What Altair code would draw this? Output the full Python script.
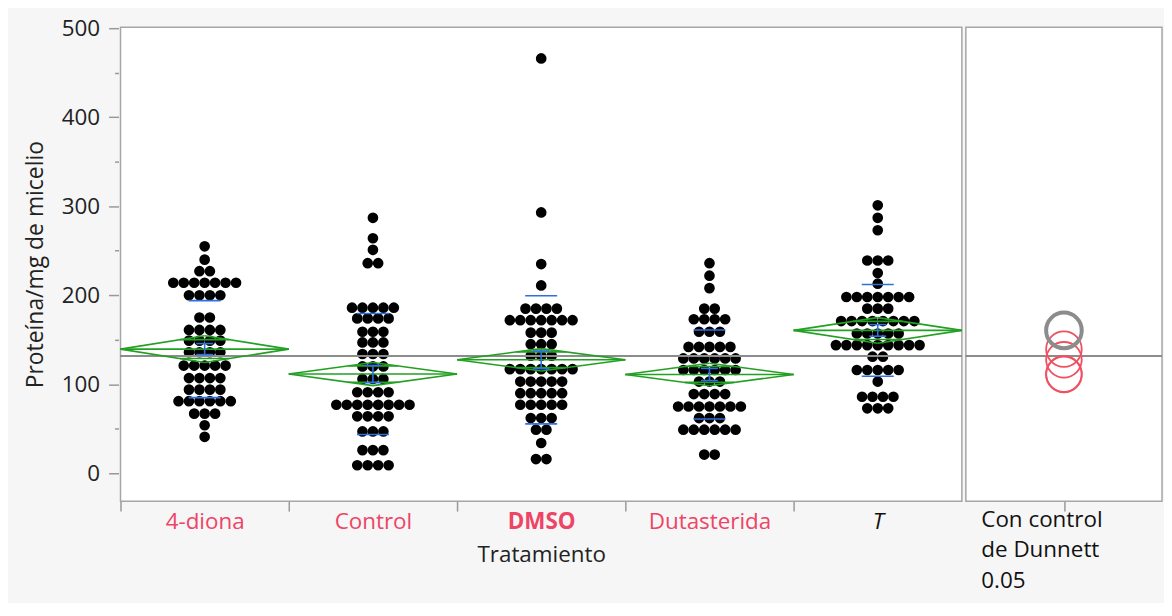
import json
import math
import altair as alt
import pandas as pd

# ---------------- data ----------------
CATEGORIES = ["4-diona", "Control", "DMSO", "Dutasterida", "T"]

DIONA = [255, 240, 227, 227, 214, 214, 214, 214, 214, 214, 214, 200, 200, 200, 200,
         175, 175, 161, 161, 161, 161, 149, 149, 149, 149, 136, 136, 136, 136,
         121, 121, 121, 121, 121, 107, 107, 107, 107, 94, 94, 94, 94,
         81, 81, 81, 81, 81, 81, 67, 67, 67, 54, 41]
CONTROL = [287, 264, 251, 236, 236, 186, 186, 186, 186, 186, 174, 174, 174, 174,
           159, 159, 159, 147, 147, 147, 134, 134, 134, 120, 120, 120, 106, 106, 106,
           91, 91, 91, 91, 77, 77, 77, 77, 77, 77, 77, 77, 64, 64, 64, 64,
           47, 47, 47, 26, 26, 26, 9, 9, 9, 9]
DMSO = [466, 293, 235, 211, 185, 185, 185, 185, 172, 172, 172, 172, 172, 172, 172,
        158, 158, 158, 145, 145, 145, 132, 132, 132, 117, 117, 117, 117, 117, 117, 117,
        103, 103, 103, 103, 103, 90, 90, 90, 90, 90, 77, 77, 77, 77, 77,
        62, 62, 62, 49, 49, 34, 16, 16]
DUTASTERIDA = [236, 222, 208, 185, 185, 173, 173, 173, 173, 159, 159, 159,
               142, 142, 142, 142, 142, 129, 129, 129, 129, 129, 129,
               116, 116, 116, 116, 116, 116, 103, 103, 103, 89, 89, 89, 89,
               75, 75, 75, 75, 75, 75, 75, 62, 62, 62, 49, 49, 49, 49, 49, 49, 21, 21]
T_VALUES = [301, 287, 273, 239, 239, 239, 225, 213, 198, 198, 198, 198, 198, 198, 198,
            185, 185, 185, 171, 171, 171, 171, 171, 171, 171, 171, 157, 157, 157, 157, 157,
            144, 144, 144, 144, 144, 144, 144, 144, 144, 131, 131,
            116, 116, 116, 116, 116, 103, 86, 86, 86, 86, 73, 73, 73]

MEANS = [139.5, 111.5, 127.5, 111.0, 160.5]
CI_HALF = [15.0, 13.0, 12.5, 12.6, 14.4]
SD = [54.5, 68.0, 72.0, 50.0, 51.5]
SE = [6.2, 9.7, 10.0, 6.8, 6.5]
GRAND_MEAN = 132.0

DUNNETT_RADIUS = [20, 20, 20, 20, 20]
DUNNETT_GRAY = "T"
DUNNETT_TITLE = ["Con control", "de Dunnett", "0.05"]

# ---------------- style ----------------
RED = "#ee4466"
GREEN = "#22a022"
BLUE = "#2f6fe0"
GRAY = "#8c8c8c"
FONT = "Open Sans"
FS = 22.5
W_MAIN, W_DUN, H = 845, 197, 476
DOT_STEP = 10.5 / (W_MAIN / len(CATEGORIES))
Y_DOMAIN = [-31.3, 501.1]
PX_PER_UNIT = H / (Y_DOMAIN[1] - Y_DOMAIN[0])

# ---------------- tables ----------------
groups = [DIONA, CONTROL, DMSO, DUTASTERIDA, T_VALUES]
rows = []
for i, (cat, vals) in enumerate(zip(CATEGORIES, groups)):
    for v in vals:
        rows.append({"Tratamiento": cat, "idx": i, "value": v})
points_df = pd.DataFrame(rows)

segs = []
k = 1 / math.sqrt(2)
for i, (m, ci, sd, se) in enumerate(zip(MEANS, CI_HALF, SD, SE)):
    c = i + 0.5
    segs += [
        dict(x=i, x2=c, y=m, y2=m + ci, col=GREEN),
        dict(x=c, x2=i + 1, y=m + ci, y2=m, col=GREEN),
        dict(x=i + 1, x2=c, y=m, y2=m - ci, col=GREEN),
        dict(x=c, x2=i, y=m - ci, y2=m, col=GREEN),
        dict(x=i, x2=i + 1, y=m, y2=m, col=GREEN),
    ]
    half = (1 - k) / 2
    for s in (1, -1):
        segs.append(dict(x=c - half, x2=c + half, y=m + s * ci * k, y2=m + s * ci * k, col=GREEN))
    for s in (1, -1):
        segs.append(dict(x=c - 0.095, x2=c + 0.095, y=m + s * sd, y2=m + s * sd, col=BLUE))
    segs.append(dict(x=c, x2=c, y=m - se, y2=m + se, col=BLUE))
    for s in (1, -1):
        segs.append(dict(x=c - 0.05, x2=c + 0.05, y=m + s * se, y2=m + s * se, col=BLUE))
segs_df = pd.DataFrame(segs)

dun_df = pd.DataFrame({
    "Tratamiento": CATEGORIES,
    "mean": MEANS,
    "radius": DUNNETT_RADIUS,
})
dun_df["col"] = [GRAY if c == DUNNETT_GRAY else "#f05060" for c in CATEGORIES]
dun_df["sw"] = [4 if c == DUNNETT_GRAY else 1.8 for c in CATEGORIES]
dun_df["panel"] = " ".join(DUNNETT_TITLE)
dun_df = pd.concat([dun_df[dun_df.col != GRAY], dun_df[dun_df.col == GRAY]])

# ---------------- scales / axes ----------------
X_SCALE = alt.Scale(domain=[0, len(CATEGORIES)], nice=False, zero=False)
Y_SCALE = alt.Scale(domain=Y_DOMAIN, nice=False, zero=False)

t_idx = CATEGORIES.index("T")
d_idx = CATEGORIES.index("DMSO")
X_AXIS = alt.Axis(
    values=list(range(len(CATEGORIES))),
    labelExpr=f"{json.dumps(CATEGORIES)}[datum.value] || ''",
    labelOffset=W_MAIN / len(CATEGORIES) / 2,
    labelFlush=False, labelOverlap=False, labelBound=False,
    tickSize=10, tickColor="#999999", tickWidth=1.5,
    labelPadding=-1, domain=False, grid=False,
    title="Tratamiento", titlePadding=11,
    labelColor={"condition": {"test": f"datum.value === {t_idx}", "value": "#111111"}, "value": RED},
    labelFontWeight={"condition": {"test": f"datum.value === {d_idx}", "value": "bold"}, "value": "normal"},
    labelFontStyle={"condition": {"test": f"datum.value === {t_idx}", "value": "italic"}, "value": "normal"},
)
Y_AXIS = alt.Axis(
    values=list(range(0, 501, 50)),
    labelExpr="datum.value % 100 === 0 ? datum.label : ''",
    tickSize={"condition": {"test": "datum.value % 100 === 0", "value": 10}, "value": 4},
    tickColor="#999999", tickWidth=1.5,
    offset=2, labelPadding=9, domain=False, grid=False,
    title="Proteína/mg de micelio", titlePadding=14, titleFontSize=23,
)

pts = alt.Chart(points_df).transform_window(
    rank="row_number()", groupby=["Tratamiento", "value"]
).transform_joinaggregate(
    n="count()", groupby=["Tratamiento", "value"]
).transform_calculate(
    xpos=f"datum.idx + 0.5 + (datum.rank - (datum.n + 1) / 2) * {DOT_STEP}"
).mark_circle(size=115, color="black", opacity=1).encode(
    x=alt.X("xpos:Q", scale=X_SCALE, axis=X_AXIS),
    y=alt.Y("value:Q", scale=Y_SCALE, axis=Y_AXIS),
)

grand_main = alt.Chart(points_df).mark_rule(color=GRAY, strokeWidth=1.8).encode(
    y=alt.datum(GRAND_MEAN, scale=Y_SCALE, axis=Y_AXIS)
)

seg_layer = alt.Chart(segs_df).mark_rule(strokeWidth=1.6).encode(
    x=alt.X("x:Q", scale=X_SCALE, axis=X_AXIS),
    x2="x2:Q",
    y=alt.Y("y:Q", scale=Y_SCALE, axis=Y_AXIS),
    y2="y2:Q",
    color=alt.Color("col:N", scale=None, legend=None),
)

main = alt.layer(pts, grand_main, seg_layer).properties(width=W_MAIN, height=H)

D_AXIS = alt.Axis(
    labels=False, ticks=True, tickSize=10, tickColor="#999999", tickWidth=1.5,
    bandPosition=0, domain=False, grid=False,
    title=DUNNETT_TITLE, titleAnchor="start", titleAlign="left", titleBaseline="top",
    titleX=15, titleY=7, titleLineHeight=31, titleColor="#111111",
)
size_max = (2 * 25 * PX_PER_UNIT) ** 2

grand_dun = alt.Chart(dun_df).mark_rule(color=GRAY, strokeWidth=1.8).encode(
    y=alt.datum(GRAND_MEAN, scale=Y_SCALE, axis=None)
)
circles = alt.Chart(dun_df).mark_point(shape="circle", filled=False, opacity=1).encode(
    x=alt.X("panel:N", scale=alt.Scale(paddingInner=0, paddingOuter=0), axis=D_AXIS),
    y=alt.Y("mean:Q", scale=Y_SCALE, axis=None),
    size=alt.Size("radius:Q", scale=alt.Scale(type="pow", exponent=2, domain=[0, 25], range=[0, size_max]), legend=None),
    color=alt.Color("col:N", scale=None, legend=None),
    strokeWidth=alt.StrokeWidth("sw:Q", scale=None, legend=None),
)
dunnett = alt.layer(grand_dun, circles).properties(width=W_DUN, height=H)

chart = alt.hconcat(main, dunnett, spacing=0).properties(
    background="#f6f6f6",
    padding={"left": 15, "top": 7, "right": 0, "bottom": 8},
).configure_view(
    stroke="#a6a6a6", strokeWidth=1.5, fill="white"
).configure_axis(
    labelFont=FONT, labelFontSize=FS, labelColor="#222222",
    titleFont=FONT, titleFontSize=FS, titleColor="#222222", titleFontWeight="normal",
)

chart.save("out.html", embed_options={"renderer": "svg", "actions": False})
